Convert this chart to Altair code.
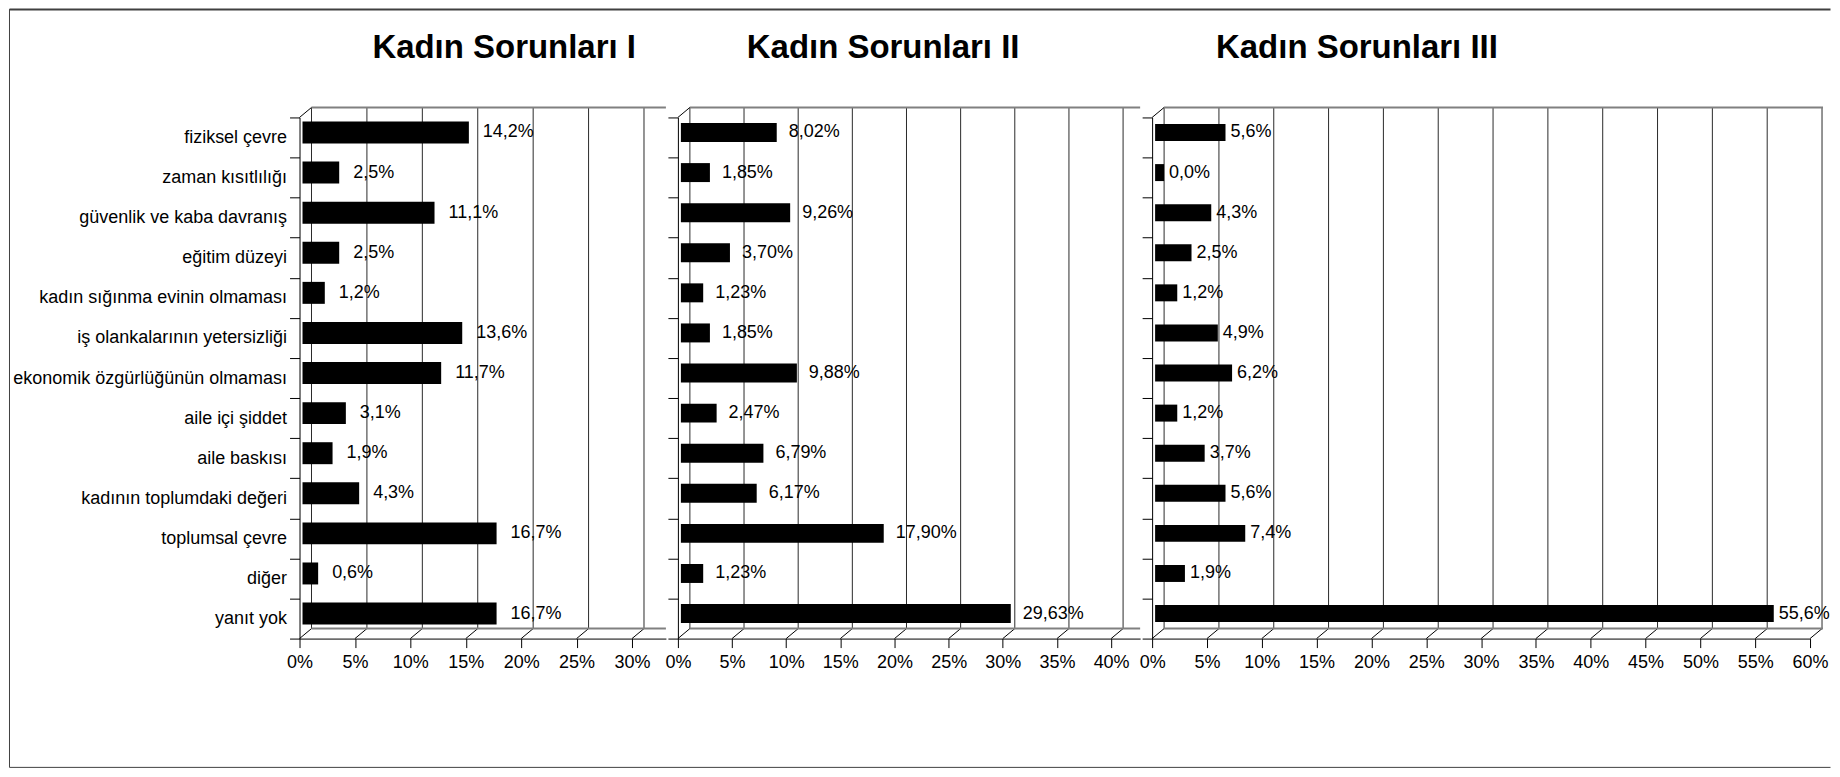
import altair as alt
import pandas as pd

categories = [
    "fiziksel çevre",
    "zaman kısıtlılığı",
    "güvenlik ve kaba davranış",
    "eğitim düzeyi",
    "kadın sığınma evinin olmaması",
    "iş olankalarının yetersizliği",
    "ekonomik özgürlüğünün olmaması",
    "aile içi şiddet",
    "aile baskısı",
    "kadının toplumdaki değeri",
    "toplumsal çevre",
    "diğer",
    "yanıt yok",
]

values_1 = [14.2, 2.5, 11.1, 2.5, 1.2, 13.6, 11.7, 3.1, 1.9, 4.3, 16.7, 0.6, 16.7]
values_2 = [8.02, 1.85, 9.26, 3.70, 1.23, 1.85, 9.88, 2.47, 6.79, 6.17, 17.90, 1.23, 29.63]
values_3 = [5.6, 0.0, 4.3, 2.5, 1.2, 4.9, 6.2, 1.2, 3.7, 5.6, 7.4, 1.9, 55.6]

ticks_1 = [0, 5, 10, 15, 20, 25, 30]
ticks_2 = [0, 5, 10, 15, 20, 25, 30, 35, 40]
ticks_3 = [0, 5, 10, 15, 20, 25, 30, 35, 40, 45, 50, 55, 60]

titles = ["Kadın Sorunları I", "Kadın Sorunları II", "Kadın Sorunları III"]

FONT = "Liberation Sans"
H = 522
DX, DY = 12, -10


def fmt(v, dec):
    return f"{v:.{dec}f}".replace(".", ",") + "%"


def panel(vals, dec, ticks, dmax, width, title, title_x, show_labels,
          bar_size, label_dx, right_extra, frame=False):
    df = pd.DataFrame({"cat": categories, "v": vals,
                       "lab": [fmt(v, dec) for v in vals]})
    tdf = pd.DataFrame({"t": ticks})
    one = pd.DataFrame({"a": [0]})

    xscale = alt.Scale(domain=[0, dmax], nice=False, zero=True)
    xaxis = alt.Axis(values=ticks, labelExpr="datum.value + '%'", title=None,
                     grid=False, tickSize=9, tickColor="black",
                     domainColor="black", labelFont=FONT, labelFontSize=18,
                     labelColor="black", labelPadding=6, labelFlush=False,
                     labelOverlap=False)
    yaxis = alt.Axis(title=None, tickBand="extent", tickSize=10,
                     labelPadding=3, labels=show_labels, labelFont=FONT,
                     labelFontSize=18, labelColor="black", labelLimit=400,
                     tickColor="black", domainColor="black")
    yenc = alt.Y("cat:N", sort=categories,
                 scale=alt.Scale(paddingInner=0, paddingOuter=0), axis=yaxis)

    grid = alt.Chart(tdf).mark_rule(
        color="#2a2a2a", strokeWidth=1, xOffset=DX, yOffset=DY, y2Offset=DY
    ).encode(x=alt.X("t:Q", scale=xscale, axis=xaxis),
             y=alt.value(0), y2=alt.value(H))

    slants = alt.Chart(tdf).mark_rule(
        color="black", strokeWidth=1, x2Offset=DX, y2Offset=DY
    ).encode(x=alt.X("t:Q", scale=xscale, axis=xaxis), x2=alt.X2("t:Q"),
             y=alt.value(H), y2=alt.value(H))

    top_slant = alt.Chart(one).mark_rule(
        color="black", strokeWidth=1, x2Offset=DX, y2Offset=DY
    ).encode(x=alt.X(datum=0, scale=xscale, axis=xaxis), x2=alt.X2(datum=0),
             y=alt.value(0), y2=alt.value(0))

    top_line = alt.Chart(one).mark_rule(
        color="#808080", strokeWidth=2, xOffset=DX, x2Offset=right_extra,
        yOffset=DY
    ).encode(x=alt.X(datum=0, scale=xscale, axis=xaxis),
             x2=alt.X2(datum=dmax), y=alt.value(0))

    floor_line = alt.Chart(one).mark_rule(
        color="#808080", strokeWidth=2, xOffset=DX, x2Offset=right_extra,
        yOffset=DY
    ).encode(x=alt.X(datum=0, scale=xscale, axis=xaxis),
             x2=alt.X2(datum=dmax), y=alt.value(H))

    bars = alt.Chart(df).mark_bar(
        color="black", size=bar_size, xOffset=DX, x2Offset=3, yOffset=-5
    ).encode(x=alt.X("v:Q", scale=xscale, axis=xaxis), x2=alt.X2(datum=0),
             y=yenc)

    text = alt.Chart(df).mark_text(
        align="left", baseline="middle", dx=label_dx, dy=-5, font=FONT,
        fontSize=18, color="black"
    ).encode(x=alt.X("v:Q", scale=xscale, axis=xaxis), y=yenc, text="lab:N")

    head = alt.Chart(pd.DataFrame({"t": [title]})).mark_text(
        align="left", baseline="alphabetic", font=FONT, fontSize=33,
        fontWeight="bold", color="black"
    ).encode(x=alt.value(title_x), y=alt.value(-60), text="t:N")

    layers = [grid, slants, top_slant, top_line, floor_line, bars, text, head]
    if frame:
        # outer picture frame: top, left and bottom edges (open at the right)
        fr_top = alt.Chart(one).mark_rule(color="#404040", strokeWidth=2).encode(
            x=alt.value(-290.5), x2=alt.value(1533.5), y=alt.value(-108))
        fr_bot = alt.Chart(one).mark_rule(color="#404040", strokeWidth=1).encode(
            x=alt.value(-290.5), x2=alt.value(1533.5), y=alt.value(651))
        fr_left = alt.Chart(one).mark_rule(color="#404040", strokeWidth=1).encode(
            x=alt.value(-290.5), y=alt.value(-108.5), y2=alt.value(651))
        layers += [fr_top, fr_bot, fr_left]

    return alt.layer(*layers).properties(width=width, height=H)


p1 = panel(values_1, 1, ticks_1, 33.06, 367, titles[0], 73, True, 22, 26, 0,
           frame=True)
p2 = panel(values_2, 2, ticks_2, 42.68, 463, titles[1], 69, False, 19, 24, 0)
p3 = panel(values_3, 1, ticks_3, 60, 659, titles[2], 64, False, 17, 17, DX + 1)

chart = alt.hconcat(p1, p2, p3, spacing=12, bounds="flush").properties(
    padding=0,
    background="white",
).configure_view(stroke=None)

chart.save("out.html", embed_options={"renderer": "svg", "actions": False})
